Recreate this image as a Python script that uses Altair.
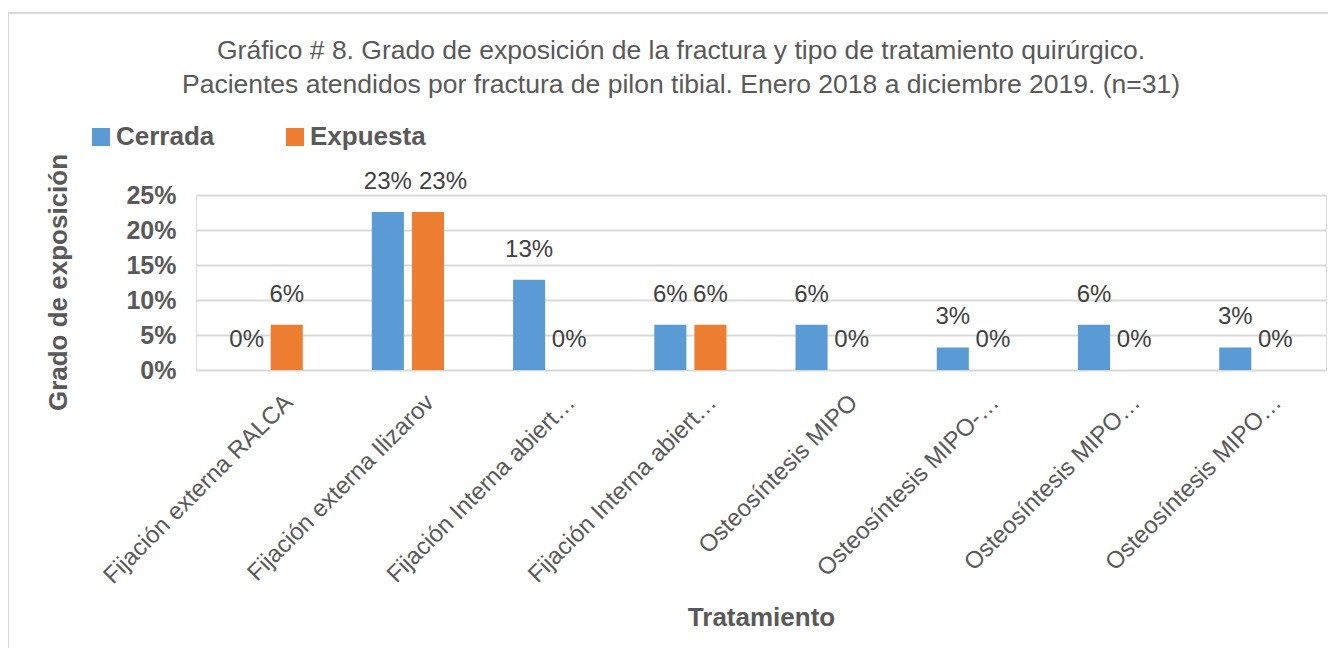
import altair as alt
import pandas as pd

# ---- data ----
tratamientos = [
    "Fijación externa RALCA",
    "Fijación externa Ilizarov",
    "Fijación Interna abiert…",
    "Fijación Interna abiert…",
    "Osteosíntesis MIPO",
    "Osteosíntesis MIPO-…",
    "Osteosíntesis MIPO…",
    "Osteosíntesis MIPO…",
]
cerrada = [0.0, 0.2258, 0.129, 0.0645, 0.0645, 0.0323, 0.0645, 0.0323]
expuesta = [0.0645, 0.2258, 0.0, 0.0645, 0.0, 0.0, 0.0, 0.0]
series = ["Cerrada", "Expuesta"]
colors = ["#5B9BD5", "#ED7D31"]
y_ticks = [0, 0.05, 0.1, 0.15, 0.2, 0.25]

rows = []
for i in range(len(tratamientos)):
    rows.append({"idx": i, "Exposición": series[0], "valor": cerrada[i]})
    rows.append({"idx": i, "Exposición": series[1], "valor": expuesta[i]})
df = pd.DataFrame(rows)

FONT = "Liberation Sans"
GREY = "#595959"

label_list = "[" + ",".join("'" + t + "'" for t in tratamientos) + "]"

x_enc = alt.X(
    "idx:O",
    title="Tratamiento",
    scale=alt.Scale(paddingInner=0.489, paddingOuter=0.245),
    axis=alt.Axis(
        labelExpr=label_list + "[datum.value]",
        labelAngle=-45,
        labelAlign="right",
        labelBaseline="top",
        labelFontSize=24,
        labelColor=GREY,
        labelFont=FONT,
        labelLimit=500,
        labelPadding=20,
        labelOffset=14,
        ticks=False,
        domain=False,
        grid=False,
        titleFontSize=26,
        titleFontWeight="bold",
        titleColor=GREY,
        titleFont=FONT,
        titleY=247,
        titleBaseline="middle",
    ),
)
xoff = alt.XOffset("Exposición:N", sort=series, scale=alt.Scale(paddingInner=0.2, paddingOuter=0))
y_enc = alt.Y(
    "valor:Q",
    scale=alt.Scale(domain=[0, 0.25], nice=False),
    axis=alt.Axis(
        title="Grado de exposición",
        values=y_ticks,
        tickCount=6,
        format=".0%",
        labelOverlap=False,
        labelFontSize=25,
        labelFontWeight="bold",
        labelColor=GREY,
        labelFont=FONT,
        labelPadding=20,
        ticks=False,
        domain=False,
        grid=True,
        gridColor="#D9D9D9",
        gridWidth=2,
        titleFontSize=26,
        titleFontWeight="bold",
        titleColor=GREY,
        titleFont=FONT,
        titleX=-138,
        titleY=87,
        titleAngle=-90,
        titleBaseline="middle",
        titleAlign="center",
    ),
)

bars = alt.Chart(df).mark_bar().encode(
    x=x_enc,
    xOffset=xoff,
    y=y_enc,
    color=alt.Color(
        "Exposición:N",
        sort=series,
        scale=alt.Scale(domain=series, range=colors),
        legend=alt.Legend(
            title=None,
            orient="none",
            legendX=-108,
            legendY=-71,
            direction="horizontal",
            symbolType="square",
            symbolSize=324,
            symbolStrokeWidth=0,
            labelFontSize=26,
            labelFontWeight="bold",
            labelColor=GREY,
            labelFont=FONT,
            labelOffset=2,
            columnPadding=67,
            padding=0,
        ),
    ),
)

# value labels; Excel nudges the right label of a colliding pair to the right
collide = "datum['Exposición'] == 'Expuesta' && datum.valor > 0.2"
text_style = dict(baseline="middle", align="center", fontSize=24, font=FONT, color="#404040")
labels = alt.Chart(df).transform_filter("!(" + collide + ")").mark_text(
    dy=-30, **text_style
).encode(
    x=x_enc,
    xOffset=xoff,
    y=y_enc,
    text=alt.Text("valor:Q", format=".0%"),
)
labels_nudged = alt.Chart(df).transform_filter(collide).mark_text(
    dy=-30, dx=15, **text_style
).encode(
    x=x_enc,
    xOffset=xoff,
    y=y_enc,
    text=alt.Text("valor:Q", format=".0%"),
)

frame = alt.Chart(pd.DataFrame({"a": [0]})).mark_rect(
    fill=None, stroke="#D9D9D9", strokeWidth=2
).encode(
    x=alt.value(-188), x2=alt.value(1400), y=alt.value(-182), y2=alt.value(900)
)

chart = (
    alt.layer(frame, bars, labels, labels_nudged)
    .properties(
        width=1130,
        height=175,
        padding={"left": 188, "top": 187, "right": 2, "bottom": 278},
        autosize=alt.AutoSizeParams(type="none"),
        title=alt.TitleParams(
            text=[
                "Gráfico # 8. Grado de exposición de la fractura y tipo de tratamiento quirúrgico.",
                "Pacientes atendidos por fractura de pilon tibial. Enero 2018 a diciembre 2019. (n=31)",
            ],
            fontSize=26.5,
            fontWeight="normal",
            color=GREY,
            font=FONT,
            lineHeight=34,
            anchor="middle",
            frame="group",
            dx=-80,
            dy=90,
        ),
    )
    .configure_view(stroke="transparent", strokeWidth=0)
    .configure(background="white")
)

chart.save("out.html", embed_options={"renderer": "svg", "actions": False})
